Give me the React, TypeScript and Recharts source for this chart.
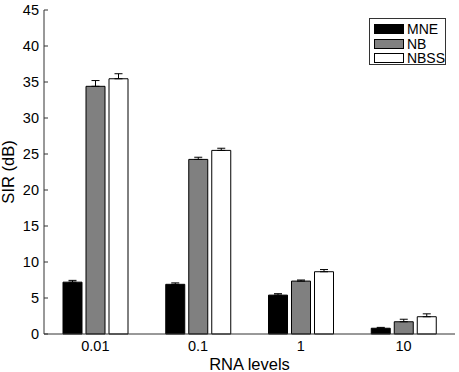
import React from "react";
import { BarChart, Bar, XAxis, YAxis, ErrorBar } from "recharts";

const categories = ["0.01", "0.1", "1", "10"];
const mneValues = [7.2, 6.9, 5.4, 0.8];
const mneErrors = [0.25, 0.2, 0.2, 0.12];
const nbValues = [34.4, 24.25, 7.35, 1.7];
const nbErrors = [0.8, 0.3, 0.15, 0.35];
const nbssValues = [35.45, 25.5, 8.65, 2.4];
const nbssErrors = [0.7, 0.3, 0.3, 0.4];
const yTicks = [0, 5, 10, 15, 20, 25, 30, 35, 40, 45];

const seriesNames = ["MNE", "NB", "NBSS"];
const seriesColors = ["#000000", "#808080", "#ffffff"];

const data = categories.map((c, i) => ({
  level: c,
  MNE: mneValues[i],
  mneErr: [0, mneErrors[i]],
  NB: nbValues[i],
  nbErr: [0, nbErrors[i]],
  NBSS: nbssValues[i],
  nbssErr: [0, nbssErrors[i]],
}));

const FONT = "'Liberation Sans', Arial, Helvetica, sans-serif";

const LegendBox = () => (
  <div
    style={{
      position: "absolute",
      left: 369,
      top: 18,
      border: "1px solid #333",
      background: "#fff",
      width: 77,
      height: 47,
      boxSizing: "border-box",
      padding: "3px 0 0 4px",
      fontFamily: FONT,
      fontSize: 14,
      color: "#000",
    }}
  >
    {seriesNames.map((n, i) => (
      <div key={n} style={{ display: "flex", alignItems: "center", height: 14.5 }}>
        <div
          style={{
            width: 30,
            height: 10,
            background: seriesColors[i],
            border: "1px solid #000",
            boxSizing: "border-box",
            marginRight: 3,
          }}
        />
        <span style={{ lineHeight: "14px" }}>{n}</span>
      </div>
    ))}
  </div>
);

export default function App() {
  return (
    <div style={{ position: "absolute", left: 0, top: 0, width: 459, height: 372, background: "#fff" }}>
      <BarChart
        width={459}
        height={372}
        data={data}
        margin={{ top: 10, right: 4, left: 0, bottom: 0 }}
        barSize={19}
        barGap={4}
        style={{ fontFamily: FONT }}
      >
        <XAxis
          dataKey="level"
          height={38}
          tickLine={false}
          tickSize={0}
          tickMargin={7}
          axisLine={{ stroke: "#333", strokeWidth: 1 }}
          tick={{ fill: "#000", fontSize: 14.5, fontFamily: FONT }}
          label={{ value: "RNA levels", position: "insideBottom", offset: 2, fill: "#000", fontSize: 16.5, fontFamily: FONT }}
        />
        <YAxis
          width={44}
          domain={[0, 45]}
          ticks={yTicks}
          interval={0}
          tickSize={-4}
          tickMargin={9}
          tickLine={{ stroke: "#333" }}
          axisLine={{ stroke: "#333", strokeWidth: 1 }}
          tick={{ fill: "#000", fontSize: 14.5, fontFamily: FONT }}
          label={({ viewBox }: any) => (
            <text
              x={14}
              y={viewBox.y + viewBox.height / 2}
              transform={`rotate(-90, 14, ${viewBox.y + viewBox.height / 2})`}
              textAnchor="middle"
              fill="#000"
              fontSize={16.5}
              fontFamily={FONT}
            >
              SIR (dB)
            </text>
          )}
        />
        <Bar dataKey="MNE" fill={seriesColors[0]} stroke="#000" strokeWidth={1} isAnimationActive={false}>
          <ErrorBar dataKey="mneErr" width={4} stroke="#000" strokeWidth={1} direction="y" />
        </Bar>
        <Bar dataKey="NB" fill={seriesColors[1]} stroke="#000" strokeWidth={1} isAnimationActive={false}>
          <ErrorBar dataKey="nbErr" width={4} stroke="#000" strokeWidth={1} direction="y" />
        </Bar>
        <Bar dataKey="NBSS" fill={seriesColors[2]} stroke="#000" strokeWidth={1} isAnimationActive={false}>
          <ErrorBar dataKey="nbssErr" width={4} stroke="#000" strokeWidth={1} direction="y" />
        </Bar>
      </BarChart>
      <LegendBox />
    </div>
  );
}
